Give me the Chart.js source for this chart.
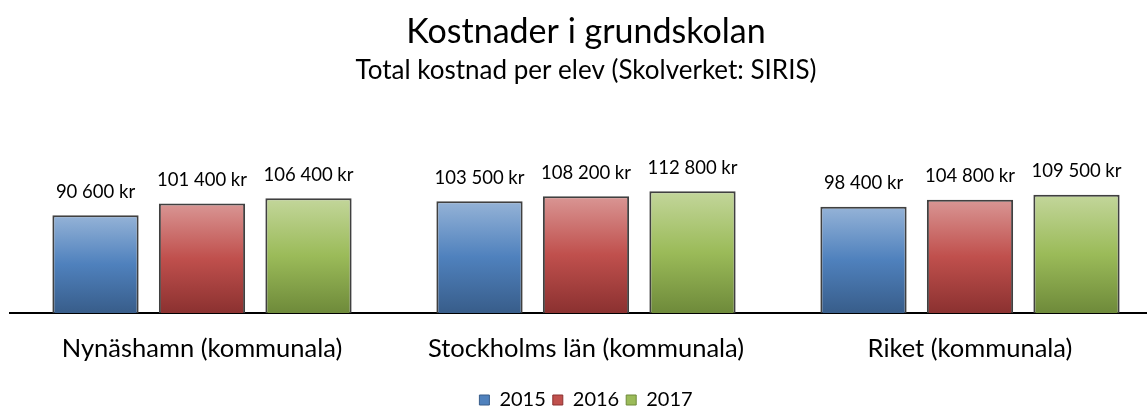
<!DOCTYPE html>
<html lang="sv">
<head>
<meta charset="utf-8">
<title>Kostnader i grundskolan</title>
<script src="https://cdn.jsdelivr.net/npm/chart.js@4.4.1/dist/chart.umd.min.js"></script>
<style>
    html, body {
        margin: 0;
        padding: 0;
        background: #ffffff;
        overflow: hidden;
    }
    #wrap {
        width: 1147px;
        height: 408px;
        overflow: hidden;
    }
    canvas {
        display: block;
    }
</style>
</head>
<body>
<div id="wrap">
    <canvas id="costChart" width="1172" height="420"></canvas>
</div>
<script>
// Data (Skolverket: SIRIS), kr per elev
const categories = ["Nynäshamn (kommunala)", "Stockholms län (kommunala)", "Riket (kommunala)"];
const years = ["2015", "2016", "2017"];
const values2015 = [90600, 103500, 98400];
const values2016 = [101400, 108200, 104800];
const values2017 = [106400, 112800, 109500];

// top / mid / bottom colours of each bar gradient
const palettes = [
    ["#95b3d7", "#4f81bd", "#385d8a"],
    ["#d99694", "#c0504d", "#8b3130"],
    ["#c3d69b", "#9bbb59", "#6e8a3a"]
];

function formatKr(v) {
    return String(v).replace(/\B(?=(\d{3})+(?!\d))/g, " ") + " kr";
}

function barGradient(context, colors) {
    const chart = context.chart;
    if (!chart.chartArea || context.type !== "data") {
        return colors[1];
    }
    const y = chart.scales.y;
    const top = y.getPixelForValue(context.raw);
    const bottom = y.getPixelForValue(0);
    const g = chart.ctx.createLinearGradient(0, top, 0, bottom);
    g.addColorStop(0, colors[0]);
    g.addColorStop(0.5, colors[1]);
    g.addColorStop(1, colors[2]);
    return g;
}

const valueLabels = {
    id: "valueLabels",
    afterDatasetsDraw(chart) {
        const ctx = chart.ctx;
        ctx.save();
        ctx.font = "18.5px Lato";
        ctx.fillStyle = "#000000";
        ctx.textAlign = "center";
        ctx.textBaseline = "alphabetic";
        chart.data.datasets.forEach((ds, i) => {
            chart.getDatasetMeta(i).data.forEach((bar, j) => {
                ctx.fillText(formatKr(ds.data[j]), bar.x, bar.y - 17.5);
            });
        });
        ctx.restore();
    }
};

function draw() {
    Chart.defaults.font.family = "Lato";
    Chart.defaults.color = "#000000";

    const seriesValues = [values2015, values2016, values2017];

    new Chart(document.getElementById("costChart"), {
        type: "bar",
        data: {
            labels: categories,
            datasets: years.map((year, i) => ({
                label: year,
                data: seriesValues[i],
                backgroundColor: (context) => barGradient(context, palettes[i]),
                borderColor: "#404040",
                borderWidth: 2,
                categoryPercentage: 0.832,
                barPercentage: 0.81
            }))
        },
        options: {
            responsive: false,
            animation: false,
            devicePixelRatio: 1,
            layout: {
                padding: { left: 10, right: 10, top: 0, bottom: 0 }
            },
            plugins: {
                title: {
                    display: true,
                    text: "Kostnader i grundskolan",
                    color: "#000000",
                    font: { size: 34, weight: "normal" },
                    padding: { top: 11.8, bottom: 2.3 }
                },
                subtitle: {
                    display: true,
                    text: "Total kostnad per elev (Skolverket: SIRIS)",
                    color: "#000000",
                    font: { size: 26, weight: "normal" },
                    padding: { top: 0, bottom: 11 }
                },
                legend: {
                    position: "bottom",
                    labels: {
                        boxWidth: 10,
                        boxHeight: 10,
                        padding: 7,
                        font: { size: 20 },
                        color: "#000000",
                        generateLabels: () => years.map((year, i) => ({
                            text: year,
                            fillStyle: palettes[i][1],
                            strokeStyle: palettes[i][2],
                            lineWidth: 1,
                            datasetIndex: i
                        }))
                    }
                },
                tooltip: { enabled: false }
            },
            scales: {
                x: {
                    z: 1,
                    grid: { display: false, drawTicks: false },
                    border: { display: true, color: "#000000", width: 2 },
                    ticks: {
                        color: "#000000",
                        font: { size: 25.5 },
                        padding: 20.7,
                        maxRotation: 0,
                        minRotation: 0
                    },
                    afterFit: (scale) => {
                        scale.height = 70;
                    }
                },
                y: {
                    display: false,
                    min: 0,
                    max: 200000
                }
            }
        },
        plugins: [valueLabels]
    });
}

document.fonts.load("18px Lato").then(draw, draw);
</script>
</body>
</html>
